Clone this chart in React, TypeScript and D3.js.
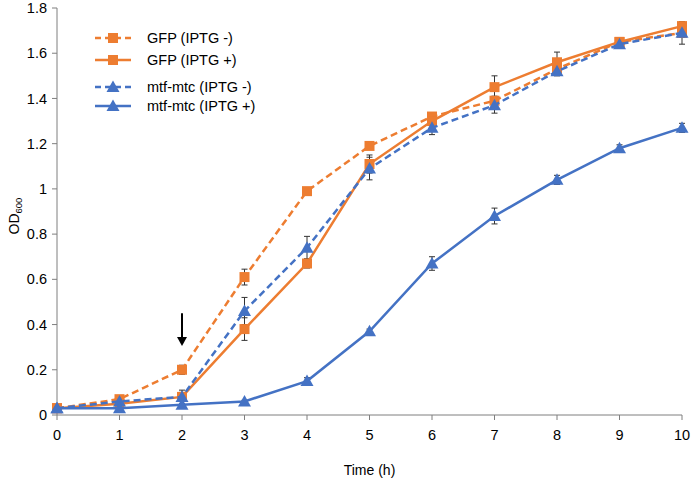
import * as d3 from 'd3';
import React from 'react';

const WIDTH = 691;
const HEIGHT = 481;
const MARGIN = { top: 8, right: 9, bottom: 66, left: 57 };

const hours = [0, 1, 2, 3, 4, 5, 6, 7, 8, 9, 10];
const gfpMinus = [0.03, 0.07, 0.2, 0.61, 0.99, 1.19, 1.32, 1.39, 1.53, 1.65, 1.69];
const gfpMinusErr = [0.005, 0.01, 0.02, 0.035, 0.01, 0.01, 0.01, 0.02, 0.01, 0.01, 0.02];
const gfpPlus = [0.03, 0.05, 0.08, 0.38, 0.67, 1.11, 1.3, 1.45, 1.56, 1.65, 1.72];
const gfpPlusErr = [0.005, 0.01, 0.03, 0.05, 0.02, 0.04, 0.02, 0.05, 0.045, 0.01, 0.02];
const mtfMinus = [0.03, 0.06, 0.08, 0.46, 0.74, 1.09, 1.27, 1.37, 1.52, 1.64, 1.69];
const mtfMinusErr = [0.005, 0.01, 0.02, 0.06, 0.05, 0.05, 0.03, 0.035, 0.02, 0.01, 0.05];
const mtfPlus = [0.03, 0.03, 0.045, 0.06, 0.15, 0.37, 0.67, 0.88, 1.04, 1.18, 1.27];
const mtfPlusErr = [0.005, 0.005, 0.005, 0.005, 0.015, 0.01, 0.03, 0.035, 0.02, 0.015, 0.02];
const yTicks = [0, 0.2, 0.4, 0.6, 0.8, 1, 1.2, 1.4, 1.6, 1.8];

const ORANGE = '#ED7D31';
const BLUE = '#4472C4';

const series = [
  { name: 'GFP (IPTG -)', values: gfpMinus, err: gfpMinusErr, color: ORANGE, dashed: true, marker: 'square' },
  { name: 'GFP (IPTG +)', values: gfpPlus, err: gfpPlusErr, color: ORANGE, dashed: false, marker: 'square' },
  { name: 'mtf-mtc (IPTG -)', values: mtfMinus, err: mtfMinusErr, color: BLUE, dashed: true, marker: 'triangle' },
  { name: 'mtf-mtc (IPTG +)', values: mtfPlus, err: mtfPlusErr, color: BLUE, dashed: false, marker: 'triangle' },
];

const FONT = 'Arial, "Liberation Sans", sans-serif';

const Marker = ({ type, x, y, color }: { type: string; x: number; y: number; color: string }) => {
  if (type === 'square') {
    return <rect x={x - 5} y={y - 5} width={10} height={10} fill={color} />;
  }
  return <path d={`M${x},${y - 6.5}L${x + 6.5},${y + 5}L${x - 6.5},${y + 5}Z`} fill={color} />;
};

const App = () => {
  const x = d3.scaleLinear().domain([0, 10]).range([MARGIN.left, WIDTH - MARGIN.right]);
  const y = d3.scaleLinear().domain([0, 1.8]).range([HEIGHT - MARGIN.bottom, MARGIN.top]);
  const line = d3
    .line<number>()
    .x((_, i) => x(hours[i]))
    .y((d) => y(d));

  const legendRows = [38, 60, 87, 106];

  return (
    <svg width={WIDTH} height={HEIGHT} style={{ position: 'absolute', left: 0, top: 0 }} fontFamily={FONT}>
      <rect width={WIDTH} height={HEIGHT} fill="white" />

      {/* y axis */}
      <line x1={x(0)} x2={x(0)} y1={y(0)} y2={y(1.8)} stroke="#7f7f7f" />
      {yTicks.map((t) => (
        <g key={t}>
          <line x1={x(0) - 5} x2={x(0)} y1={y(t)} y2={y(t)} stroke="#7f7f7f" />
          <text x={x(0) - 10} y={y(t)} dy="0.35em" textAnchor="end" fontSize={14.5} fill="#000">
            {t}
          </text>
        </g>
      ))}

      {/* x axis */}
      <line x1={x(0)} x2={x(10)} y1={y(0)} y2={y(0)} stroke="#7f7f7f" />
      {hours.map((h) => (
        <g key={h}>
          <line x1={x(h)} x2={x(h)} y1={y(0)} y2={y(0) + 5} stroke="#7f7f7f" />
          <text x={x(h)} y={y(0) + 25} textAnchor="middle" fontSize={14.5} fill="#000">
            {h}
          </text>
        </g>
      ))}

      <text x={(x(0) + x(10)) / 2} y={475} textAnchor="middle" fontSize={14} fill="#000">
        Time (h)
      </text>
      <text transform={`translate(19, ${y(0.88)}) rotate(-90)`} textAnchor="middle" fontSize={14} fill="#000">
        OD<tspan fontSize={9.5} dy={3}>600</tspan>
      </text>

      {/* error bars */}
      {series.map((s) =>
        s.values.map((v, i) => {
          const cx = x(hours[i]);
          const y1 = y(v + s.err[i]);
          const y2 = y(v - s.err[i]);
          return (
            <g key={`${s.name}-e-${i}`} stroke="#333" strokeWidth={1}>
              <line x1={cx} x2={cx} y1={y1} y2={y2} />
              <line x1={cx - 3} x2={cx + 3} y1={y1} y2={y1} />
              <line x1={cx - 3} x2={cx + 3} y1={y2} y2={y2} />
            </g>
          );
        }),
      )}

      {/* lines and markers */}
      {series.map((s) => (
        <g key={s.name}>
          <path
            d={line(s.values) ?? ''}
            fill="none"
            stroke={s.color}
            strokeWidth={2.5}
            strokeDasharray={s.dashed ? '7,4' : undefined}
          />
          {s.values.map((v, i) => (
            <Marker key={i} type={s.marker} x={x(hours[i])} y={y(v)} color={s.color} />
          ))}
        </g>
      ))}

      {/* arrow marking IPTG addition */}
      <line x1={x(2)} x2={x(2)} y1={y(0.45)} y2={y(0.33)} stroke="#000" strokeWidth={2} />
      <path d={`M${x(2) - 5},${y(0.345)}L${x(2) + 5},${y(0.345)}L${x(2)},${y(0.305)}Z`} fill="#000" />

      {/* legend */}
      {series.map((s, i) => (
        <g key={`lg-${s.name}`}>
          <line
            x1={95}
            x2={131}
            y1={legendRows[i]}
            y2={legendRows[i]}
            stroke={s.color}
            strokeWidth={2.5}
            strokeDasharray={s.dashed ? '6,4' : undefined}
          />
          <Marker type={s.marker} x={113} y={legendRows[i]} color={s.color} />
          <text x={147} y={legendRows[i]} dy="0.35em" fontSize={14.5} fill="#000">
            {s.name}
          </text>
        </g>
      ))}
    </svg>
  );
};

export default App;
